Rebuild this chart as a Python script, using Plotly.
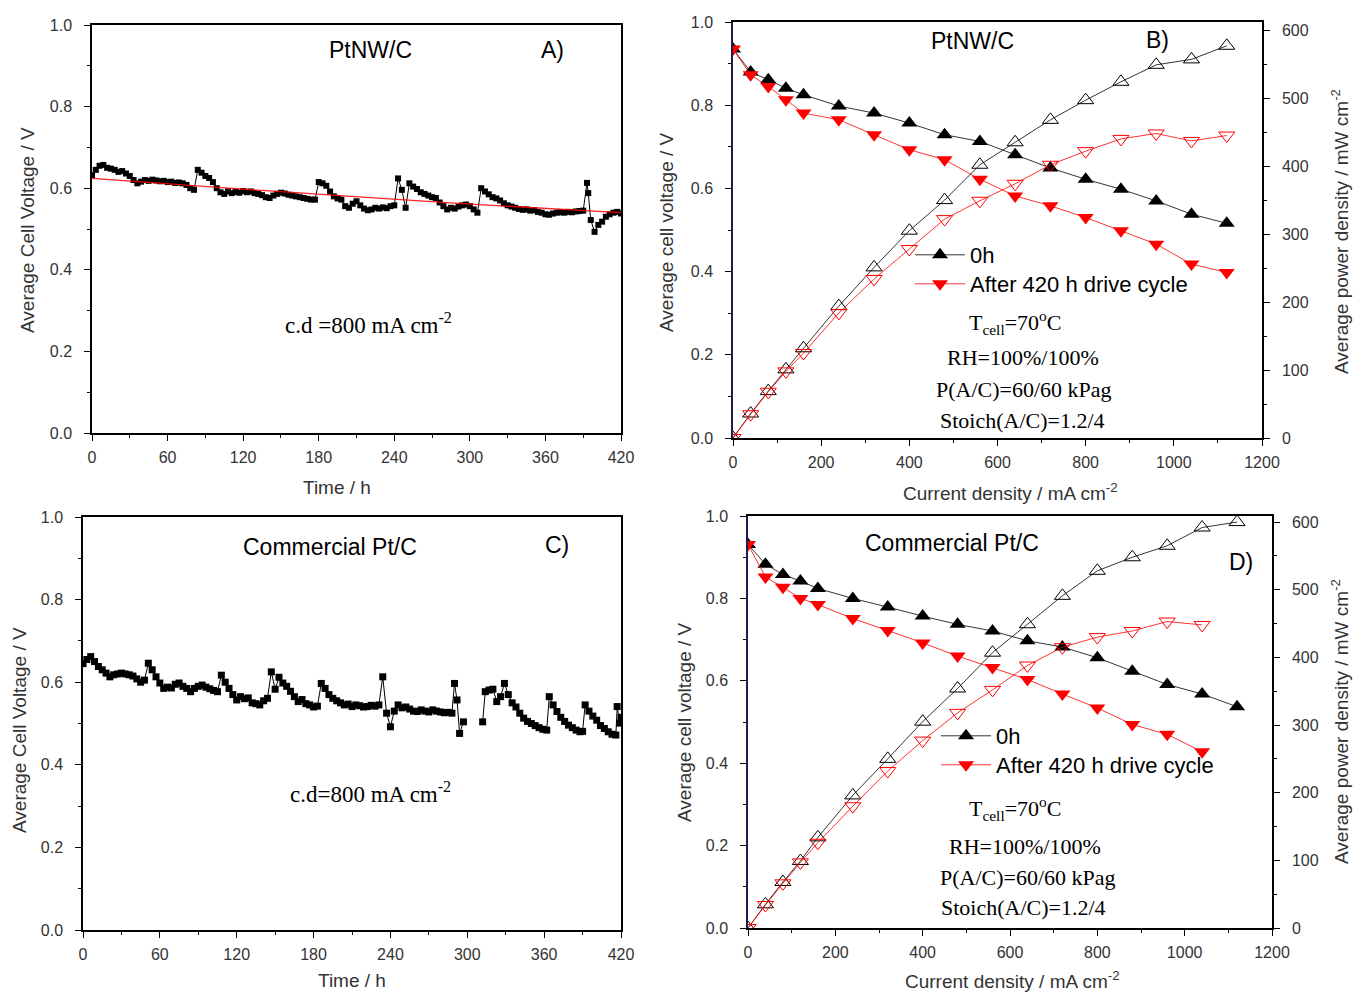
import plotly.graph_objects as go

# ---------------- data ----------------
# Panel A: PtNW/C durability at 800 mA cm-2
time_a = [0, 3, 6, 9, 12, 15, 18, 21, 24, 27,
          30, 33, 36, 39, 42, 45, 48, 51, 54, 57,
          60, 63, 66, 69, 72, 75, 78, 81, 84, 87,
          90, 93, 96, 99, 102, 105, 108, 111, 114, 117,
          120, 123, 126, 129, 132, 135, 138, 141, 144, 147,
          150, 153, 156, 159, 162, 165, 168, 171, 174, 177,
          180, 183, 186, 189, 192, 195, 198, 201, 204, 207,
          210, 213, 216, 219, 222, 225, 228, 231, 234, 237,
          240, 243, 246, 249, 252, 255, 258, 261, 264, 267,
          270, 273, 276, 279, 282, 285, 288, 291, 294, 297,
          300, 303, 306, 309, 312, 315, 318, 321, 324, 327,
          330, 333, 336, 339, 342, 345, 348, 351, 354, 357,
          360, 363, 366, 369, 372, 375, 378, 381, 384, 387,
          390, 393, 394, 396, 399, 402, 405, 408, 411, 414, 417, 420]
volt_a = [0.632, 0.645, 0.655, 0.657, 0.650, 0.648, 0.645, 0.640, 0.642, 0.636,
          0.630, 0.620, 0.612, 0.616, 0.620, 0.618, 0.621, 0.619, 0.617, 0.618,
          0.615, 0.616, 0.613, 0.614, 0.612, 0.608, 0.600, 0.596, 0.645, 0.638,
          0.630, 0.625, 0.615, 0.600, 0.590, 0.586, 0.592, 0.588, 0.591, 0.589,
          0.593, 0.590, 0.592, 0.588, 0.586, 0.583, 0.578, 0.576, 0.582, 0.586,
          0.589, 0.587, 0.584, 0.582, 0.580, 0.578, 0.576, 0.574, 0.572, 0.572,
          0.615, 0.612, 0.606, 0.592, 0.580, 0.575, 0.572, 0.556, 0.552, 0.562,
          0.568, 0.558, 0.550, 0.546, 0.548, 0.552, 0.550, 0.553, 0.551, 0.556,
          0.558, 0.624, 0.596, 0.552, 0.612, 0.604, 0.598, 0.590, 0.586, 0.582,
          0.578, 0.576, 0.565, 0.556, 0.548, 0.552, 0.550, 0.555, 0.558, 0.560,
          0.556, 0.548, 0.540, 0.600, 0.592, 0.585, 0.578, 0.575, 0.570, 0.563,
          0.558, 0.555, 0.552, 0.549, 0.547, 0.548, 0.545, 0.546, 0.542, 0.540,
          0.536, 0.535, 0.538, 0.540, 0.541, 0.540, 0.542, 0.541, 0.543, 0.544,
          0.545, 0.613, 0.588, 0.522, 0.493, 0.510, 0.518, 0.530, 0.536, 0.540, 0.542, 0.538]
fit_time_a = [0, 100, 200, 300, 420]
fit_volt_a = [0.624, 0.602, 0.581, 0.561, 0.540]

# Panel C: Commercial Pt/C durability at 800 mA cm-2 (None = data gap)
time_c = [0, 3, 6, 9, 12, 15, 18, 21, 24, 27,
          30, 33, 36, 39, 42, 45, 48, 51, 54, 57,
          60, 63, 66, 69, 72, 75, 78, 81, 84, 87,
          90, 93, 96, 99, 102, 105, 108, 111, 114, 117,
          120, 123, 126, 129, 132, 135, 138, 141, 144, 147,
          150, 153, 156, 159, 162, 165, 168, 171, 174, 177,
          180, 183, 186, 189, 192, 195, 198, 201, 204, 207,
          210, 213, 216, 219, 222, 225, 228, 231, 234, 237,
          240, 243, 246, 249, 252, 255, 258, 261, 264, 267,
          270, 273, 276, 279, 282, 285, 288,
          290, 292, 294, 297, 305,
          312, 314, 317, 320, 323, 326, 329, 332, 335, 338,
          341, 344, 347, 350, 353, 356, 359, 362, 364, 367,
          370, 373, 376, 379, 382, 385, 388, 390, 392, 395,
          398, 401, 404, 407, 410, 413, 416, 417, 419, 420]
volt_c = [0.645, 0.655, 0.662, 0.650, 0.638, 0.630, 0.622, 0.613, 0.618, 0.620,
          0.622, 0.620, 0.618, 0.615, 0.608, 0.600, 0.605, 0.646, 0.630, 0.613,
          0.598, 0.585, 0.588, 0.586, 0.595, 0.598, 0.590, 0.585, 0.577, 0.585,
          0.590, 0.593, 0.588, 0.584, 0.580, 0.577, 0.617, 0.600, 0.585, 0.570,
          0.557, 0.565, 0.560, 0.562, 0.550, 0.548, 0.545, 0.555, 0.561, 0.625,
          0.583, 0.612, 0.598, 0.590, 0.578, 0.565, 0.553, 0.558, 0.548, 0.545,
          0.540, 0.542, 0.597, 0.585, 0.570, 0.561, 0.555, 0.550, 0.545, 0.547,
          0.541, 0.545, 0.543, 0.540, 0.541, 0.544, 0.542, 0.545, 0.613, 0.525,
          0.492, 0.530, 0.545, 0.538, 0.540, 0.535, 0.530, 0.529, 0.533, 0.530,
          0.528, 0.533, 0.530, 0.528, 0.526, 0.527, 0.525,
          0.597, 0.557, 0.476, 0.504, None,
          0.504, 0.577, 0.581, 0.583, 0.553, 0.565, 0.597, 0.570, 0.550, 0.540,
          0.525, 0.513, 0.505, 0.500, 0.495, 0.490, 0.486, 0.484, 0.565, 0.545,
          0.529, 0.515, 0.505, 0.496, 0.490, 0.484, 0.480, 0.481, 0.545, 0.530,
          0.518, 0.508, 0.495, 0.488, 0.480, 0.474, 0.472, 0.541, 0.501, 0.515]

# Panel B: PtNW/C polarization
cd_b = [0, 40, 80, 120, 160, 240, 320, 400, 480, 560, 640, 720, 800, 880, 960, 1040, 1120]
v0_b = [0.935, 0.880, 0.861, 0.841, 0.825, 0.798, 0.781, 0.757, 0.729, 0.713,
        0.681, 0.649, 0.622, 0.598, 0.570, 0.538, 0.516]
v420_b = [0.935, 0.873, 0.845, 0.813, 0.781, 0.765, 0.729, 0.693, 0.669, 0.622,
          0.582, 0.558, 0.530, 0.498, 0.466, 0.418, 0.398]
p0_b = [0, 36, 69, 101, 132, 194, 251, 305, 350, 402, 435, 468, 497, 524, 549, 557, 577]
p420_b = [0, 35, 68, 98, 125, 184, 234, 278, 322, 349, 374, 402, 422, 440, 448, 437, 445]

# Panel D: Commercial Pt/C polarization
cd_d0 = [0, 40, 80, 120, 160, 240, 320, 400, 480, 560, 640, 720, 800, 880, 960, 1040, 1120]
v0_d = [0.931, 0.883, 0.858, 0.842, 0.824, 0.800, 0.779, 0.757, 0.737, 0.721,
        0.697, 0.682, 0.656, 0.623, 0.591, 0.568, 0.537]
p0_d = [0, 35, 68, 99, 134, 196, 250, 305, 354, 407, 449, 491, 528, 548, 565, 592, 600]
cd_d420 = [0, 40, 80, 120, 160, 240, 320, 400, 480, 560, 640, 720, 800, 880, 960, 1040]
v420_d = [0.931, 0.852, 0.827, 0.800, 0.785, 0.751, 0.722, 0.692, 0.660, 0.632,
          0.603, 0.568, 0.534, 0.494, 0.470, 0.428]
p420_d = [0, 34, 66, 97, 126, 180, 232, 277, 318, 352, 388, 415, 430, 439, 453, 448]

time_ticks = [0, 60, 120, 180, 240, 300, 360, 420]
cd_ticks = [0, 200, 400, 600, 800, 1000, 1200]
series_names = ["0h", "After 420 h drive cycle"]

# ---------------- figure ----------------
W, H = 1356, 992
SANS = "Liberation Sans, Arial, sans-serif"
SERIF = "Liberation Serif, Times New Roman, serif"
RED = "#ff0000"
GREY = "#333333"


def px(x):
    return x / W


def py(y):
    return 1 - y / H


fig = go.Figure()

# Panel A
fig.add_trace(go.Scatter(x=time_a, y=volt_a, mode="lines+markers", xaxis="x", yaxis="y",
                         marker=dict(symbol="square", size=6, color="black"),
                         line=dict(color="black", width=1), showlegend=False))
fig.add_trace(go.Scatter(x=fit_time_a, y=fit_volt_a, mode="lines", xaxis="x", yaxis="y",
                         line=dict(color=RED, width=1.3, shape="spline"), opacity=0.85,
                         showlegend=False))

# Panel C
fig.add_trace(go.Scatter(x=time_c, y=volt_c, mode="lines+markers", xaxis="x3", yaxis="y4",
                         marker=dict(symbol="square", size=7, color="black"),
                         line=dict(color="black", width=1), showlegend=False,
                         connectgaps=False))

MS = 14
# Panel B
fig.add_trace(go.Scatter(x=cd_b, y=p0_b, mode="lines+markers", xaxis="x2", yaxis="y3",
                         marker=dict(symbol="triangle-up-open", size=MS, color="black",
                                     line=dict(width=1)),
                         line=dict(color="black", width=0.8), showlegend=False))
fig.add_trace(go.Scatter(x=cd_b, y=p420_b, mode="lines+markers", xaxis="x2", yaxis="y3",
                         marker=dict(symbol="triangle-down-open", size=MS, color=RED,
                                     line=dict(width=1)),
                         line=dict(color=RED, width=0.8), showlegend=False))
fig.add_trace(go.Scatter(x=cd_b, y=v0_b, mode="lines+markers", xaxis="x2", yaxis="y2",
                         name=series_names[0], legend="legend",
                         marker=dict(symbol="triangle-up", size=MS, color="black"),
                         line=dict(color="black", width=0.8)))
fig.add_trace(go.Scatter(x=cd_b, y=v420_b, mode="lines+markers", xaxis="x2", yaxis="y2",
                         name=series_names[1], legend="legend2",
                         marker=dict(symbol="triangle-down", size=MS, color=RED),
                         line=dict(color=RED, width=0.8)))

# Panel D
fig.add_trace(go.Scatter(x=cd_d0, y=p0_d, mode="lines+markers", xaxis="x4", yaxis="y6",
                         marker=dict(symbol="triangle-up-open", size=MS, color="black",
                                     line=dict(width=1)),
                         line=dict(color="black", width=0.8), showlegend=False))
fig.add_trace(go.Scatter(x=cd_d420, y=p420_d, mode="lines+markers", xaxis="x4", yaxis="y6",
                         marker=dict(symbol="triangle-down-open", size=MS, color=RED,
                                     line=dict(width=1)),
                         line=dict(color=RED, width=0.8), showlegend=False))
fig.add_trace(go.Scatter(x=cd_d0, y=v0_d, mode="lines+markers", xaxis="x4", yaxis="y5",
                         name=series_names[0], legend="legend3",
                         marker=dict(symbol="triangle-up", size=MS, color="black"),
                         line=dict(color="black", width=0.8)))
fig.add_trace(go.Scatter(x=cd_d420, y=v420_d, mode="lines+markers", xaxis="x4", yaxis="y5",
                         name=series_names[1], legend="legend4",
                         marker=dict(symbol="triangle-down", size=MS, color=RED),
                         line=dict(color=RED, width=0.8)))

tickfont = dict(family=SANS, size=16, color=GREY)


def xax(domain, anchor, rng, tickvals, minor_dtick):
    return dict(domain=domain, anchor=anchor, range=rng, tickvals=tickvals,
                ticks="outside", ticklen=6, tickwidth=1.2, tickcolor="black",
                minor=dict(dtick=minor_dtick, ticks="outside", ticklen=3, tickcolor="black"),
                showline=True, linecolor="black", linewidth=1.5, mirror=True,
                showgrid=False, zeroline=False, tickfont=tickfont, ticklabelstandoff=3,
                automargin=False)


def yax(domain, anchor, leftcolor="black"):
    return dict(domain=domain, anchor=anchor, range=[0, 1], dtick=0.2, tickformat=".1f",
                ticks="outside", ticklen=6, tickwidth=1.2, tickcolor="black",
                minor=dict(dtick=0.1, ticks="outside", ticklen=3, tickcolor="black"),
                showline=True, linecolor=leftcolor, linewidth=1.5, mirror=True,
                showgrid=False, zeroline=False, tickfont=tickfont, ticklabelstandoff=9,
                automargin=False)


def y2ax(domain, anchor, overlay, top):
    return dict(domain=domain, anchor=anchor, overlaying=overlay, side="right",
                range=[0, top], tickvals=[0, 100, 200, 300, 400, 500, 600],
                ticks="outside", ticklen=6, tickwidth=1.2, tickcolor="black",
                minor=dict(dtick=50, ticks="outside", ticklen=3, tickcolor="black"),
                showline=True, linecolor="black", linewidth=1.5,
                showgrid=False, zeroline=False, tickfont=tickfont, ticklabelstandoff=9,
                automargin=False)


dA_x = [px(92), px(621)]
dA_y = [py(433), py(25)]
dB_x = [px(733), px(1262)]
dB_y = [py(438), py(22)]
dC_x = [px(83), px(621)]
dC_y = [py(930), py(517)]
dD_x = [px(748), px(1272)]
dD_y = [py(928), py(516)]

legend_common = dict(bgcolor="rgba(0,0,0,0)", font=dict(family=SANS, size=22, color="black"),
                     xanchor="left", yanchor="middle", tracegroupgap=0, itemwidth=50)

fig.update_layout(
    width=W, height=H, margin=dict(l=0, r=0, t=0, b=0, pad=0, autoexpand=False),
    paper_bgcolor="white", plot_bgcolor="white",
    xaxis=xax(dA_x, "y", [0, 420], time_ticks, 30),
    yaxis=yax(dA_y, "x"),
    xaxis2=xax(dB_x, "y2", [0, 1200], cd_ticks, 100),
    yaxis2=dict(yax(dB_y, "x2", "#1c1c50"), mirror=False),
    yaxis3=y2ax(dB_y, "x2", "y2", 612),
    xaxis3=xax(dC_x, "y4", [0, 420], time_ticks, 30),
    yaxis4=yax(dC_y, "x3"),
    xaxis4=xax(dD_x, "y5", [0, 1200], cd_ticks, 100),
    yaxis5=dict(yax(dD_y, "x4", "#1c1c50"), mirror=False),
    yaxis6=y2ax(dD_y, "x4", "y5", 609),
    legend=dict(legend_common, x=px(910), y=py(255)),
    legend2=dict(legend_common, x=px(910), y=py(284)),
    legend3=dict(legend_common, x=px(936), y=py(736)),
    legend4=dict(legend_common, x=px(936), y=py(765)),
)

ann = []


def text(x, y, s, size=20, family=SANS, angle=0, color="black"):
    ann.append(dict(x=px(x), y=py(y), xref="paper", yref="paper", text=s, showarrow=False,
                    font=dict(family=family, size=size, color=color), textangle=angle,
                    xanchor="center", yanchor="middle"))


LBL = 23
SER = 22
AX = 19

# Panel A
text(370, 50, "PtNW/C", LBL)
text(552, 50, "A)", LBL)
text(368, 323, "c.d =800 mA cm<sup>-2</sup>", 23, SERIF)
text(28, 230, "Average Cell Voltage / V", AX, SANS, -90, GREY)
text(337, 487, "Time / h", AX, SANS, 0, GREY)

# Panel B
text(972, 41, "PtNW/C", LBL)
text(1157, 40, "B)", LBL)
text(1015, 322, "T<sub>cell</sub>=70<sup>o</sup>C", SER, SERIF)
text(1023, 358, "RH=100%/100%", SER, SERIF)
text(1024, 390, "P(A/C)=60/60 kPag", SER, SERIF)
text(1022, 421, "Stoich(A/C)=1.2/4", SER, SERIF)
text(666, 232, "Average cell voltage / V", AX, SANS, -90, GREY)
text(1340, 232, "Average power density / mW cm<sup>-2</sup>", AX, SANS, -90, GREY)
text(1010, 492, "Current density / mA cm<sup>-2</sup>", AX, SANS, 0, GREY)

# Panel C
text(330, 547, "Commercial Pt/C", LBL)
text(557, 545, "C)", LBL)
text(370, 792, "c.d=800 mA cm<sup>-2</sup>", 23, SERIF)
text(19, 730, "Average Cell Voltage / V", AX, SANS, -90, GREY)
text(352, 980, "Time / h", AX, SANS, 0, GREY)

# Panel D
text(952, 543, "Commercial Pt/C", LBL)
text(1241, 562, "D)", LBL)
text(1015, 808, "T<sub>cell</sub>=70<sup>o</sup>C", SER, SERIF)
text(1025, 846, "RH=100%/100%", SER, SERIF)
text(1028, 877, "P(A/C)=60/60 kPag", SER, SERIF)
text(1023, 907, "Stoich(A/C)=1.2/4", SER, SERIF)
text(684, 722, "Average cell voltage / V", AX, SANS, -90, GREY)
text(1340, 722, "Average power density / mW cm<sup>-2</sup>", AX, SANS, -90, GREY)
text(1012, 980, "Current density / mA cm<sup>-2</sup>", AX, SANS, 0, GREY)

fig.update_layout(annotations=ann)

fig.write_html(
    "out.html",
    config={"displayModeBar": False},
    post_script="document.body.style.margin='0';document.body.style.overflow='hidden';",
)
